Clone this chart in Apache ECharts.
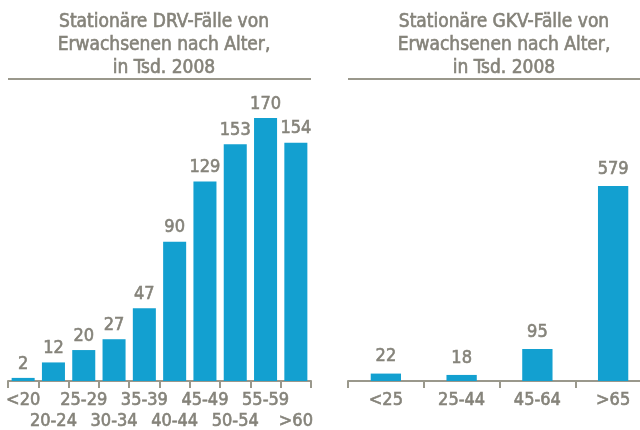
<!DOCTYPE html>
<html>
<head>
<meta charset="utf-8">
<script src="https://cdn.jsdelivr.net/npm/echarts@6/dist/echarts.min.js"></script>
<style>
html,body{margin:0;padding:0;background:#fff;}
#main{width:640px;height:430px;}
</style>
</head>
<body>
<div id="main"></div>
<script>
// Stationäre DRV-Fälle (links) und GKV-Fälle (rechts), in Tsd. 2008
var drvAges = ['<20','20-24','25-29','30-34','35-39','40-44','45-49','50-54','55-59','>60'];
var drvValues = [2, 12, 20, 27, 47, 90, 129, 153, 170, 154];
var gkvAges = ['<25','25-44','45-64','>65'];
var gkvValues = [22, 18, 95, 579];

var fontFam = "'Liberation Sans Narrow','DejaVu Sans Condensed',Roboto,sans-serif";
var txtColor = '#85837a';
var barColor = '#13a0d0';
var lineColor = '#9a988c';

var myChart = echarts.init(document.getElementById('main'));

// etwas kräftigere Schrift wie im Original
function txt(size){
    return {fontFamily:fontFam,fontSize:size,fontWeight:'normal',color:txtColor,
        textBorderColor:txtColor,textBorderWidth:0.6};
}
function axisStyle(){
    return {
        axisLine:{show:true,lineStyle:{color:lineColor,width:2}},
        axisTick:{show:true,length:7,lineStyle:{color:lineColor,width:2}}
    };
}

var option = {
    animation:false,
    title:[{
        text:'Stationäre DRV-Fälle von\nErwachsenen nach Alter,\nin Tsd. 2008',
        left:159, top:6, textAlign:'center',
        textStyle:Object.assign(txt(19),{lineHeight:23})
    },{
        text:'Stationäre GKV-Fälle von\nErwachsenen nach Alter,\nin Tsd. 2008',
        left:499, top:6, textAlign:'center',
        textStyle:Object.assign(txt(19),{lineHeight:23})
    }],
    graphic:[
        {type:'line',shape:{x1:8,y1:79,x2:311,y2:79},style:{stroke:lineColor,lineWidth:2}},
        {type:'line',shape:{x1:348,y1:79,x2:640,y2:79},style:{stroke:lineColor,lineWidth:2}}
    ],
    grid:[
        {left:8, width:303, top:102.5, bottom:49, outerBoundsMode:'none'},
        {left:348, width:303, top:111.4, bottom:49, outerBoundsMode:'none'}
    ],
    xAxis:[
        Object.assign({
            type:'category', gridIndex:0, data:drvAges,
            axisLabel:Object.assign(txt(18),{interval:0,margin:9,lineHeight:21,
                formatter:function(v,i){ return i%2==1 ? '\n'+v : v; }})
        }, axisStyle()),
        Object.assign({
            type:'category', gridIndex:1, data:gkvAges,
            axisLabel:Object.assign(txt(18),{interval:0,margin:10})
        }, axisStyle())
    ],
    yAxis:[
        {type:'value',gridIndex:0,min:0,max:180,show:false,splitLine:{show:false}},
        {type:'value',gridIndex:1,min:0,max:800,show:false,splitLine:{show:false}}
    ],
    series:[{
        type:'bar', xAxisIndex:0, yAxisIndex:0, data:drvValues,
        barCategoryGap:'24%',
        itemStyle:{color:barColor},
        label:Object.assign(txt(18),{show:true,position:'top',distance:5})
    },{
        type:'bar', xAxisIndex:1, yAxisIndex:1, data:gkvValues,
        barCategoryGap:'60%',
        itemStyle:{color:barColor},
        label:Object.assign(txt(18),{show:true,position:'top',distance:8})
    }]
};

myChart.setOption(option);
</script>
</body>
</html>
